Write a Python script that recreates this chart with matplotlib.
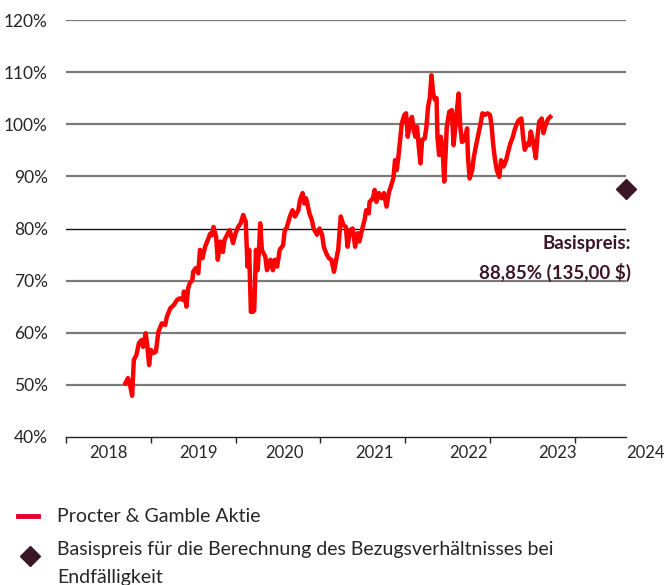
import matplotlib.pyplot as plt
from matplotlib.lines import Line2D

plt.rcParams['font.family'] = ['Lato', 'DejaVu Sans']

# Kursverlauf Procter & Gamble (in % vom Referenzkurs), Datum als Dezimaljahr
jahr = [2018.70, 2018.73, 2018.75, 2018.78, 2018.80, 2018.83, 2018.86, 2018.89, 2018.91, 2018.94,
        2018.96, 2018.98, 2019.00, 2019.03, 2019.06, 2019.09, 2019.13, 2019.17, 2019.19, 2019.23,
        2019.27, 2019.31, 2019.34, 2019.38, 2019.39, 2019.42, 2019.44, 2019.46, 2019.49, 2019.50,
        2019.53, 2019.56, 2019.58, 2019.61, 2019.64, 2019.67, 2019.70, 2019.72, 2019.74, 2019.77,
        2019.79, 2019.82, 2019.85, 2019.87, 2019.90, 2019.93, 2019.97, 2020.00, 2020.03, 2020.06,
        2020.09, 2020.12, 2020.14, 2020.16, 2020.18, 2020.20, 2020.22, 2020.24, 2020.26, 2020.28,
        2020.29, 2020.31, 2020.35, 2020.37, 2020.41, 2020.44, 2020.46, 2020.49, 2020.52, 2020.56,
        2020.58, 2020.60, 2020.64, 2020.67, 2020.70, 2020.74, 2020.76, 2020.79, 2020.81, 2020.83,
        2020.85, 2020.87, 2020.90, 2020.92, 2020.96, 2020.99, 2021.02, 2021.04, 2021.07, 2021.10,
        2021.13, 2021.16, 2021.18, 2021.20, 2021.21, 2021.24, 2021.27, 2021.30, 2021.32, 2021.35,
        2021.38, 2021.41, 2021.44, 2021.46, 2021.49, 2021.52, 2021.54, 2021.57, 2021.58, 2021.62,
        2021.64, 2021.66, 2021.69, 2021.72, 2021.75, 2021.78, 2021.81, 2021.83, 2021.86, 2021.88,
        2021.90, 2021.92, 2021.94, 2021.96, 2021.99, 2022.01, 2022.03, 2022.06, 2022.08, 2022.10,
        2022.12, 2022.14, 2022.16, 2022.18, 2022.20, 2022.23, 2022.25, 2022.27, 2022.29, 2022.31,
        2022.33, 2022.35, 2022.37, 2022.38, 2022.40, 2022.42, 2022.44, 2022.46, 2022.48, 2022.49,
        2022.52, 2022.55, 2022.57, 2022.60, 2022.61, 2022.63, 2022.65, 2022.67, 2022.70, 2022.73,
        2022.74, 2022.76, 2022.79, 2022.81, 2022.84, 2022.87, 2022.89, 2022.91, 2022.94, 2022.97,
        2023.00, 2023.02, 2023.04, 2023.06, 2023.08, 2023.11, 2023.13, 2023.16, 2023.19, 2023.22,
        2023.24, 2023.27, 2023.29, 2023.32, 2023.34, 2023.37, 2023.39, 2023.41, 2023.44, 2023.46,
        2023.48, 2023.51, 2023.54, 2023.56, 2023.58, 2023.61, 2023.63, 2023.65, 2023.67, 2023.69,
        2023.71]
kurs = [50.3, 51.3, 50.4, 47.9, 54.8, 55.7, 58.0, 58.6, 57.3, 59.9,
        57.3, 53.8, 56.7, 56.1, 56.4, 60.2, 61.8, 61.5, 63.1, 64.7,
        65.3, 66.3, 66.6, 66.3, 67.9, 65.0, 68.5, 69.5, 70.1, 71.7,
        72.4, 71.4, 75.9, 74.3, 76.5, 77.7, 79.0, 78.7, 80.3, 78.4,
        74.0, 77.5, 75.5, 77.8, 78.8, 79.7, 77.2, 79.1, 80.3, 81.0,
        82.6, 81.3, 72.7, 75.9, 64.0, 64.0, 64.3, 75.9, 72.0, 77.2,
        81.0, 75.9, 74.6, 72.0, 74.0, 72.0, 74.0, 72.7, 75.9, 76.8,
        79.7, 80.0, 82.3, 83.5, 82.3, 83.5, 85.5, 86.8, 84.8, 85.8,
        84.5, 82.9, 81.6, 80.0, 78.8, 80.0, 78.8, 76.5, 75.2, 74.3,
        74.0, 71.7, 73.5, 75.2, 75.9, 82.3, 80.7, 80.3, 76.5, 79.7,
        80.0, 76.5, 79.1, 77.5, 79.7, 81.6, 83.5, 82.9, 85.1, 85.8,
        87.4, 85.1, 86.8, 85.8, 86.8, 84.2, 87.1, 88.0, 89.6, 93.1,
        91.2, 93.8, 97.0, 100.2, 101.8, 102.1, 97.6, 100.8, 101.4, 98.9,
        97.6, 99.5, 95.7, 92.5, 97.0, 97.3, 99.5, 103.4, 105.0, 109.4,
        105.9, 104.7, 105.0, 97.6, 94.1, 97.6, 95.4, 89.0, 95.7, 99.5,
        102.4, 102.7, 96.0, 100.8, 102.7, 105.9, 99.5, 96.6, 97.0, 99.2,
        93.8, 89.6, 91.2, 93.8, 96.3, 98.6, 100.2, 102.1, 101.8, 102.1,
        101.8, 99.5, 95.7, 93.1, 91.2, 89.9, 93.1, 91.9, 93.1, 95.1,
        96.3, 97.6, 98.9, 100.2, 100.8, 101.1, 97.6, 95.1, 96.3, 96.0,
        98.6, 96.6, 93.5, 97.6, 100.5, 101.1, 98.3, 99.5, 100.5, 101.1,
        101.4]

basis_jahr = 2024.60
basis_wert = 87.6

y_ticks = [40, 50, 60, 70, 80, 90, 100, 110, 120]
x_ticks = [2018, 2019, 2020, 2021, 2022, 2023, 2024]
x_label_pos = [2018.50, 2019.56, 2020.58, 2021.64, 2022.74, 2023.79, 2024.83]
x_labels = ['2018', '2019', '2020', '2021', '2022', '2023', '2024']

rot = '#ff0000'
lila = '#3b1626'
textfarbe = '#262626'

fig = plt.figure(figsize=(6.64, 5.85), dpi=100)
ax = fig.add_axes([0.0994, 0.2530, 0.8434, 0.7128])

for v in y_ticks[1:]:
    if v == 80:
        ax.axhline(v, color='#111111', lw=1.0, zorder=1)
    else:
        ax.axhline(v, color='#7a7a7a', lw=1.6, zorder=1)

ax.plot(jahr, kurs, color=rot, lw=3.2, solid_joinstyle='round', zorder=3)
ax.plot([basis_jahr], [basis_wert], marker='D', color=lila, markersize=10,
        linestyle='none', clip_on=False, zorder=4)

ax.text(2024.665, 77.2, 'Basispreis:', ha='right', va='center', fontsize=13.5,
        fontweight='bold', color=lila, clip_on=False)
ax.text(2024.665, 71.6, '88,85% (135,00 $)', ha='right', va='center', fontsize=13.5,
        fontweight='bold', color=lila, clip_on=False)

for s in ['top', 'right', 'left']:
    ax.spines[s].set_visible(False)
ax.spines['bottom'].set_color('#222222')
ax.spines['bottom'].set_linewidth(1.0)

ax.set_yticks(y_ticks)
ax.set_yticklabels([f'{v}%' for v in y_ticks], fontsize=12.5, color=textfarbe)
ax.tick_params(axis='y', length=0, pad=13)

ax.set_xticks(x_ticks)
ax.set_xticklabels([])
ax.tick_params(axis='x', which='major', length=4, width=1.0, color='#222222')

ax.set_xlim(2018.0, 2024.604)
ax.set_ylim(40, 120)

# Jahresbeschriftungen (im Original leicht versetzt zu den Strichen)
for pos, lab in zip(x_label_pos, x_labels):
    ax.annotate(lab, xy=(pos, 0), xycoords=ax.get_xaxis_transform(),
                xytext=(0, -6), textcoords='offset points', ha='center', va='top',
                fontsize=12, color=textfarbe, annotation_clip=False)

# Legende
fig.add_artist(Line2D([0.027, 0.057], [1 - 516 / 585, 1 - 516 / 585], color='#e4002b', lw=3.5))
fig.text(0.086, 1 - 516 / 585, 'Procter & Gamble Aktie', fontsize=14, va='center', color=textfarbe)
fig.add_artist(Line2D([0.045], [1 - 556 / 585], marker='D', color=lila, markersize=10,
                      linestyle='none'))
fig.text(0.086, 1 - 550 / 585, 'Basispreis für die Berechnung des Bezugsverhältnisses bei',
         fontsize=14, va='center', color=textfarbe)
fig.text(0.086, 1 - 577 / 585, 'Endfälligkeit', fontsize=14, va='center', color=textfarbe)

fig.savefig('out.png', dpi=100)
